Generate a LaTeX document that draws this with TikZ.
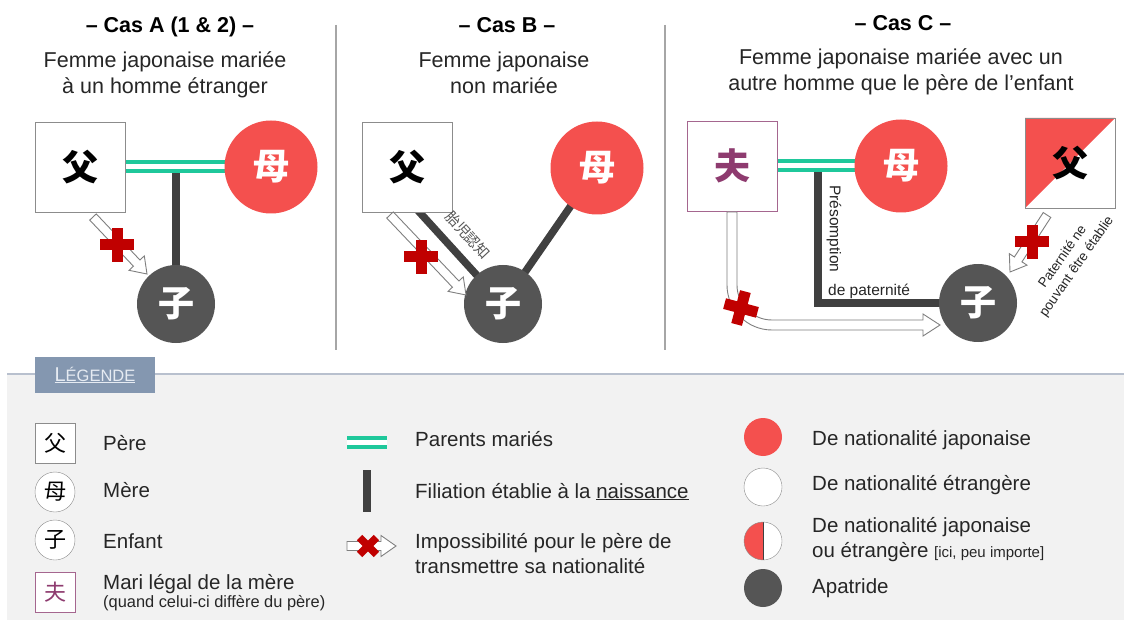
\documentclass[tikz,border=0pt]{standalone}
\usepackage{fontspec}
\setmainfont{Liberation Sans}
\newfontfamily\cjk{Noto Sans CJK JP}
\usetikzlibrary{calc}

\pgfdeclarelayer{fond}
\pgfdeclarelayer{liens}
\pgfsetlayers{fond,liens,main}

\definecolor{rouge}{HTML}{F4504E}
\definecolor{sombre}{HTML}{555555}
\definecolor{trait}{HTML}{404040}
\definecolor{vert}{HTML}{1FC89B}
\definecolor{croixrouge}{HTML}{C00000}
\definecolor{prune}{HTML}{8E3B6F}
\definecolor{prunecadre}{HTML}{A5668F}
\definecolor{cadre}{HTML}{8C8C8C}
\definecolor{gris}{HTML}{7F7F7F}
\definecolor{fondleg}{HTML}{F2F2F2}
\definecolor{ligneleg}{HTML}{B8C0CE}
\definecolor{ongletbleu}{HTML}{8497B0}
\definecolor{onglettexte}{HTML}{E6EBF2}
\definecolor{texte}{HTML}{262626}
\definecolor{sep}{HTML}{A6A6A6}

\newcommand\grand{\cjk\bfseries\fontsize{36}{36}\selectfont}
\newcommand\petit{\cjk\fontsize{22}{22}\selectfont}
\newcommand\titre{\bfseries\fontsize{21.5}{25.5}\selectfont}
\newcommand\corps{\fontsize{21.5}{25.5}\selectfont}
\newcommand\moyen{\fontsize{20.5}{25}\selectfont}

\tikzset{
	pere/.style={draw=cadre, fill=white, minimum size=90, inner sep=0, font=\grand},
	mari/.style={pere, draw=prunecadre, text=prune},
	mere/.style={circle, fill=rouge, text=white, minimum size=93, inner sep=0, font=\grand},
	enfant/.style={circle, fill=sombre, text=white, minimum size=78, inner sep=0, font=\grand},
	petitrond/.style={circle, draw=cadre, fill=white, minimum size=40, inner sep=0, font=\petit},
	pastille/.style={circle, minimum size=38, inner sep=0},
	mariage/.style={draw=vert, line width=4, double=white, double distance=5},
	filiation/.style={draw=trait, line width=7.5},
	creux/.style={draw=gris, fill=white, line width=0.9},
	titrecas/.style={anchor=base, inner sep=0, font=\titre},
	soustitre/.style={anchor=base, inner sep=0, font=\corps, text=texte},
	legende/.style={anchor=base west, inner sep=0, font=\moyen, text=texte},
	onglet/.style={fill=ongletbleu, minimum width=120, minimum height=36, inner sep=0, text=onglettexte, font=\fontsize{16.5}{16.5}\selectfont},
	croix/.pic={
		\fill[croixrouge] (-17,-5.5) rectangle (17,5.5);
		\fill[croixrouge] (-5.5,-17) rectangle (5.5,17);
	}
}

% fleche creuse droite de #1 vers #2
\newcommand\fleche[2]{%
	\draw[creux] let \p1=($(#2)-(#1)$), \n1={atan2(\y1,\x1)} in
		($(#1)+(\n1+90:4.5pt)$) -- ($(#2)+(\n1+180:15pt)+(\n1+90:4.5pt)$)
		-- ($(#2)+(\n1+180:15pt)+(\n1+90:10.5pt)$) -- (#2)
		-- ($(#2)+(\n1+180:15pt)+(\n1-90:10.5pt)$) -- ($(#2)+(\n1+180:15pt)+(\n1-90:4.5pt)$)
		-- ($(#1)+(\n1-90:4.5pt)$) -- cycle;}

\begin{document}
\begin{tikzpicture}[x=1pt,y=-1pt]
	\useasboundingbox (0,0) rectangle (1124,620);
	\begin{pgfonlayer}{fond}
		\fill[white] (0,0) rectangle (1124,620);
	\end{pgfonlayer}

	% legende : fond
	\fill[fondleg] (7,374) rectangle (1124,620);
	\draw[ligneleg, line width=1.5] (7,374) -- (1124,374);
	\node[onglet] (onglet) at (95,375) {\underline{{\fontsize{20}{20}\selectfont L}ÉGENDE}};

	% separations
	\draw[sep, line width=1.2] (336,25) -- (336,350);
	\draw[sep, line width=1.2] (665,25) -- (665,350);

	% Cas A
	\node[titrecas] (titreA) at (170,33) {– Cas A (1 \& 2) –};
	\node[soustitre] (texteA) at (165,68) {\begin{tabular}[t]{@{}c@{}}Femme japonaise mariée\\à un homme étranger\end{tabular}};
	\node[pere] (pereA) at (80,167) {父};
	\node[mere] (mereA) at (271,167) {母};
	\node[enfant] (enfantA) at (176,304) {子};
	\begin{pgfonlayer}{liens}
		\draw[filiation] (enfantA.center |- pereA.center) -- (enfantA);
		\draw[mariage] (pereA.center) -- (mereA.center);
	\end{pgfonlayer}
	\coordinate (fA1) at (93,217);
	\coordinate (fA2) at (147,274);
	\fleche{fA1}{fA2}
	\pic at (117,245) {croix};

	% Cas B
	\node[titrecas] (titreB) at (507,33) {– Cas B –};
	\node[soustitre] (texteB) at (504,68) {\begin{tabular}[t]{@{}c@{}}Femme japonaise\\non mariée\end{tabular}};
	\node[pere] (pereB) at (407,167) {父};
	\node[mere] (mereB) at (597,168) {母};
	\node[enfant] (enfantB) at (503,304) {子};
	\begin{pgfonlayer}{liens}
		\draw[filiation] ($(pereB.south)+(7,-6)$) -- (enfantB.center);
		\draw[filiation] (mereB.center) -- (enfantB.center);
	\end{pgfonlayer}
	\node[font=\cjk\fontsize{14.5}{14.5}\selectfont, text=sombre, rotate=-47] (reconnaissance) at (468,235) {胎児認知};
	\coordinate (fB1) at (390,215);
	\coordinate (fB2) at (466,295);
	\fleche{fB1}{fB2}
	\pic at (421,257) {croix};

	% Cas C
	\node[titrecas] (titreC) at (903,31) {– Cas C –};
	\node[soustitre] (texteC) at (901,65) {\begin{tabular}[t]{@{}c@{}}Femme japonaise mariée avec un\\autre homme que le père de l’enfant\end{tabular}};
	\node[mari] (mariC) at (732,166) {夫};
	\node[mere] (mereC) at (901,166) {母};
	\node[pere, path picture={\fill[rouge] (path picture bounding box.north west) -- (path picture bounding box.north east) -- (path picture bounding box.south west) -- cycle;}] (pereC) at (1070,163) {父};
	\node[enfant] (enfantC) at (978,303) {子};
	\coordinate (jC) at (818,166);
	\begin{pgfonlayer}{liens}
		\draw[filiation] (jC) |- (enfantC);
		\draw[mariage] (mariC.center) -- (mereC.center);
	\end{pgfonlayer}
	\node[font=\fontsize{15.5}{15.5}\selectfont, text=texte, rotate=-90] (presomption) at (834,229) {Présomption};
	\node[anchor=base west, inner sep=0, font=\fontsize{15.5}{15.5}\selectfont, text=texte] (paternite) at (828,295) {de paternité};
	% fleche courbe du mari vers l'enfant
	\draw[creux] (727,212) -- (727,285) arc[start angle=180, end angle=90, radius=45]
		-- (923,330) -- (923,336) -- (940,325) -- (923,314) -- (923,320) -- (772,320)
		arc[start angle=90, end angle=180, radius=35] -- (737,212) -- cycle;
	\pic[rotate=-15] at (741,308) {croix};
	\coordinate (fC1) at (1047,215);
	\coordinate (fC2) at (1010,272);
	\fleche{fC1}{fC2}
	\pic at (1032,242) {croix};
	\node[font=\fontsize{13.5}{17}\selectfont, text=texte, rotate=55] (nonetablie) at (1070,262) {\begin{tabular}{@{}c@{}}Paternité ne\\pouvant être établie\end{tabular}};

	% legende : colonne 1
	\node[pere, minimum size=40, font=\petit] (lgpere) at (55,443) {父};
	\node[petitrond] (lgmere) at (55,492) {母};
	\node[petitrond] (lgenfant) at (55,540) {子};
	\node[mari, minimum size=40, font=\petit] (lgmari) at (55,592) {夫};
	\node[legende] (txpere) at (103,450) {Père};
	\node[legende] (txmere) at (103,497) {Mère};
	\node[legende] (txenfant) at (103,548) {Enfant};
	\node[legende] (txmari) at (103,589) {Mari légal de la mère};
	\node[legende, font=\fontsize{16.4}{16.4}\selectfont] (txmari2) at (103,607) {(quand celui-ci diffère du père)};

	% legende : colonne 2
	\draw[mariage] (347,442.5) -- (387,442.5);
	\draw[filiation] (367,470) -- (367,512);
	\coordinate (lf1) at (347,546);
	\coordinate (lf2) at (396,546);
	\fleche{lf1}{lf2}
	\pic[scale=0.7, rotate=45] at (368,546) {croix};
	\node[legende] (txmaries) at (415,446) {Parents mariés};
	\node[legende] (txfiliation) at (415,498) {Filiation établie à la \underline{naissance}};
	\node[legende] (tximposs) at (415,548) {\begin{tabular}[t]{@{}l@{}}Impossibilité pour le père de\\transmettre sa nationalité\end{tabular}};

	% legende : colonne 3
	\node[pastille, fill=rouge] (lgjap) at (763,437) {};
	\node[pastille, draw=cadre, fill=white] (lgetr) at (763,487) {};
	\node[pastille, draw=cadre, fill=white, path picture={\fill[rouge] (path picture bounding box.south west) rectangle (path picture bounding box.north); \draw[trait] (path picture bounding box.north) -- (path picture bounding box.south);}] (lgmix) at (763,541) {};
	\node[pastille, fill=sombre] (lgapa) at (763,588) {};
	\node[legende] (txjap) at (812,445) {De nationalité japonaise};
	\node[legende] (txetr) at (812,490) {De nationalité étrangère};
	\node[legende] (txmix) at (812,532) {\begin{tabular}[t]{@{}l@{}}De nationalité japonaise\\ou étrangère {\fontsize{15}{15}\selectfont [ici, peu importe]}\end{tabular}};
	\node[legende] (txapa) at (812,593) {Apatride};
\end{tikzpicture}
\end{document}
